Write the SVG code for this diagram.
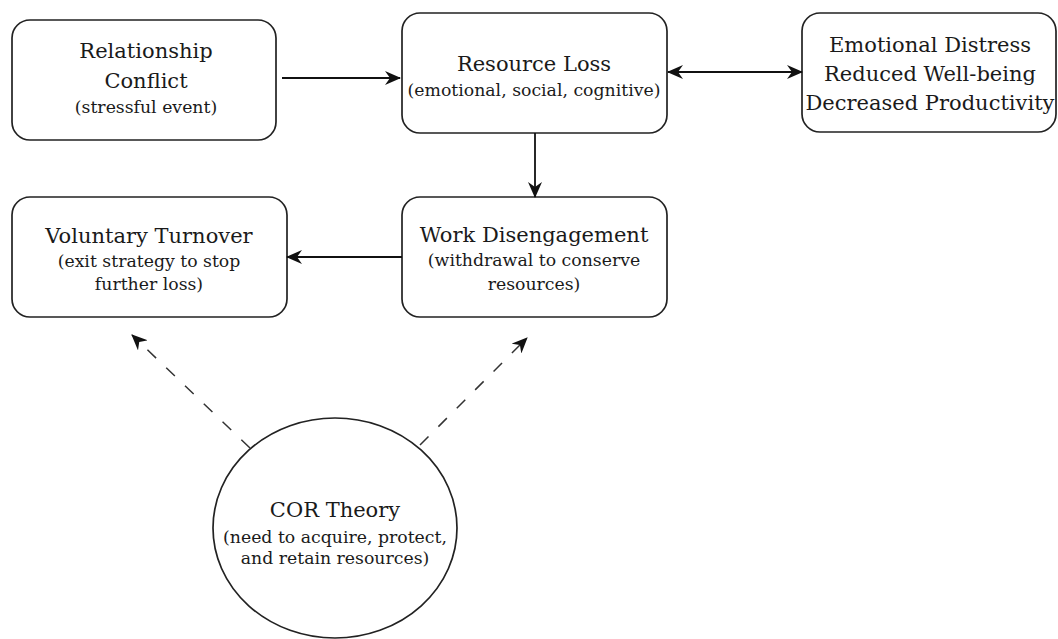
<svg xmlns="http://www.w3.org/2000/svg" width="1058" height="639" viewBox="0 0 1058 639">
<style>
.box{fill:#fff;stroke:#222;stroke-width:1.7}
.t{font-family:"DejaVu Serif","Liberation Serif",serif;font-size:21px;fill:#1a1a1a;text-anchor:middle}
.s{font-family:"DejaVu Serif","Liberation Serif",serif;font-size:17.3px;fill:#1a1a1a;text-anchor:middle}
.e{stroke:#111;stroke-width:1.8;fill:none}
.d{stroke:#333;stroke-width:1.5;fill:none;stroke-dasharray:12 14}
</style>
<defs>
<marker id="ah" viewBox="0 0 16 14" refX="15" refY="7" markerWidth="16" markerHeight="14" markerUnits="userSpaceOnUse" orient="auto-start-reverse">
<path d="M0,0 L16,7 L0,14 L5,7 Z" fill="#111"/>
</marker>
</defs>
<rect width="1058" height="639" fill="#fff"/>
<g id="relationship-conflict">
<rect class="box" x="12" y="20" width="264" height="120" rx="18"/>
<text class="t" x="146" y="58">Relationship</text>
<text class="t" x="146" y="88">Conflict</text>
<text class="s" x="146" y="113">(stressful event)</text>
</g>
<g id="resource-loss">
<rect class="box" x="402" y="13" width="265" height="120" rx="18"/>
<text class="t" x="534" y="71">Resource Loss</text>
<text class="s" x="534" y="96">(emotional, social, cognitive)</text>
</g>
<g id="outcomes">
<rect class="box" x="802" y="13" width="254" height="119" rx="18"/>
<text class="t" x="930" y="52">Emotional Distress</text>
<text class="t" x="930" y="81">Reduced Well-being</text>
<text class="t" x="930" y="110">Decreased Productivity</text>
</g>
<g id="voluntary-turnover">
<rect class="box" x="12" y="197" width="275" height="120" rx="18"/>
<text class="t" x="149" y="243">Voluntary Turnover</text>
<text class="s" x="149" y="267">(exit strategy to stop</text>
<text class="s" x="149" y="290">further loss)</text>
</g>
<g id="work-disengagement">
<rect class="box" x="402" y="197" width="265" height="120" rx="18"/>
<text class="t" x="534" y="242">Work Disengagement</text>
<text class="s" x="534" y="266">(withdrawal to conserve</text>
<text class="s" x="534" y="290">resources)</text>
</g>
<g id="cor-theory">
<ellipse class="box" cx="335" cy="528" rx="122" ry="110"/>
<text class="t" x="335" y="517">COR Theory</text>
<text class="s" x="335" y="543">(need to acquire, protect,</text>
<text class="s" x="335" y="564">and retain resources)</text>
</g>
<g id="connectors">
<line class="e" x1="282" y1="78" x2="400" y2="78" marker-end="url(#ah)"/>
<line class="e" x1="668" y1="72" x2="802" y2="72" marker-start="url(#ah)" marker-end="url(#ah)"/>
<line class="e" x1="535" y1="133" x2="535" y2="197" marker-end="url(#ah)"/>
<line class="e" x1="402" y1="257" x2="287" y2="257" marker-end="url(#ah)"/>
<line class="d" x1="250" y1="448" x2="132" y2="335" marker-end="url(#ah)"/>
<line class="d" x1="420" y1="445" x2="527" y2="338" marker-end="url(#ah)"/>
</g>
</svg>
